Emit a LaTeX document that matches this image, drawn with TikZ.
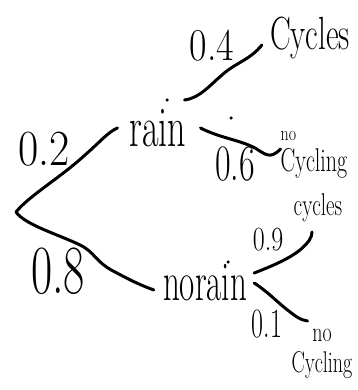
\documentclass[tikz,border=0pt]{standalone}
\usepackage{fontspec}
\newcommand\hw[2]{\scalebox{1}[#1]{#2}}
\begin{document}
\begin{tikzpicture}[x=1pt,y=-1pt,
  branch/.style={line width=3pt,line cap=round,line join=round},
  lab/.style={inner sep=0pt},
  hdot/.style={circle,fill,inner sep=0pt,minimum size=3.5pt}]
\useasboundingbox (0,0) rectangle (357,390);
\coordinate (root) at (16,212);
% nodes
\node[lab,font=\fontsize{36}{40}\selectfont] (rain) at (158,128) {\hw{1.6}{rain}};
\node[lab,font=\fontsize{33}{38}\selectfont] (norain) at (205,283) {\hw{1.7}{norain}};
\node[lab,font=\fontsize{31}{36}\selectfont] (cyc1) at (310,38) {\hw{1.5}{Cycles}};
\node[lab,align=left] (nocyc1) at (314,155) {{\fontsize{16}{16}\selectfont\hw{1.3}{no}}\\[7pt]{\fontsize{22}{22}\selectfont\hw{1.5}{Cycling}}};
\node[lab,font=\fontsize{21}{24}\selectfont] (cyc2) at (318,208) {\hw{1.5}{cycles}};
\node[lab,align=center,font=\fontsize{20}{22}\selectfont] (nocyc2) at (322,354) {\hw{1.4}{no}\\[9pt] \hw{1.5}{Cycling}};
% probabilities
\node[lab,font=\fontsize{44}{48}\selectfont] (p02) at (44,149) {\hw{1.15}{0.2}};
\node[lab,font=\fontsize{46}{50}\selectfont] (p08) at (58,271) {\hw{1.5}{0.8}};
\node[lab,font=\fontsize{38}{42}\selectfont] (p04) at (212,46) {\hw{1.2}{0.4}};
\node[lab,font=\fontsize{34}{38}\selectfont] (p06) at (235,164) {\hw{1.5}{0.6}};
\node[lab,font=\fontsize{26}{30}\selectfont] (p09) at (268,240) {\hw{1.3}{0.9}};
\node[lab,font=\fontsize{26}{30}\selectfont] (p01) at (267,324) {\hw{1.6}{0.1}};
% stray dots
\node[hdot] (d1) at (167,100) {};
\node[hdot] (d2) at (231,118) {};
\node[hdot] (d3) at (228,262) {};
% branches
\draw[branch] (root) .. controls (30,195) and (60,178) .. (85,155) .. controls (100,142) and (108,132) .. ([xshift=-12pt]rain.west);
\draw[branch] (root) .. controls (25,225) and (60,235) .. (80,245) .. controls (95,252) and (95,262) .. (115,272) .. controls (130,280) and (140,285) .. ([shift={(-9,7)}]norain.west);
\draw[branch] ([shift={(-2,-28)}]rain.east) .. controls (200,98) and (210,85) .. (222,75) .. controls (235,63) and (250,60) .. ([shift={(-8,7)}]cyc1.west);
\draw[branch] ([xshift=14pt]rain.east) .. controls (220,138) and (240,140) .. (255,148) .. controls (265,154) and (270,160) .. ([yshift=6pt]nocyc1.west);
\draw[branch] ([shift={(7,-10)}]norain.east) .. controls (275,265) and (290,258) .. (300,250) .. controls (308,243) and (312,238) .. ([shift={(-6,24)}]cyc2.center);
\draw[branch] ([shift={(7,0)}]norain.east) .. controls (268,292) and (275,300) .. (285,308) .. controls (295,316) and (300,320) .. ([shift={(16,-33)}]nocyc2.west);
\end{tikzpicture}
\end{document}
